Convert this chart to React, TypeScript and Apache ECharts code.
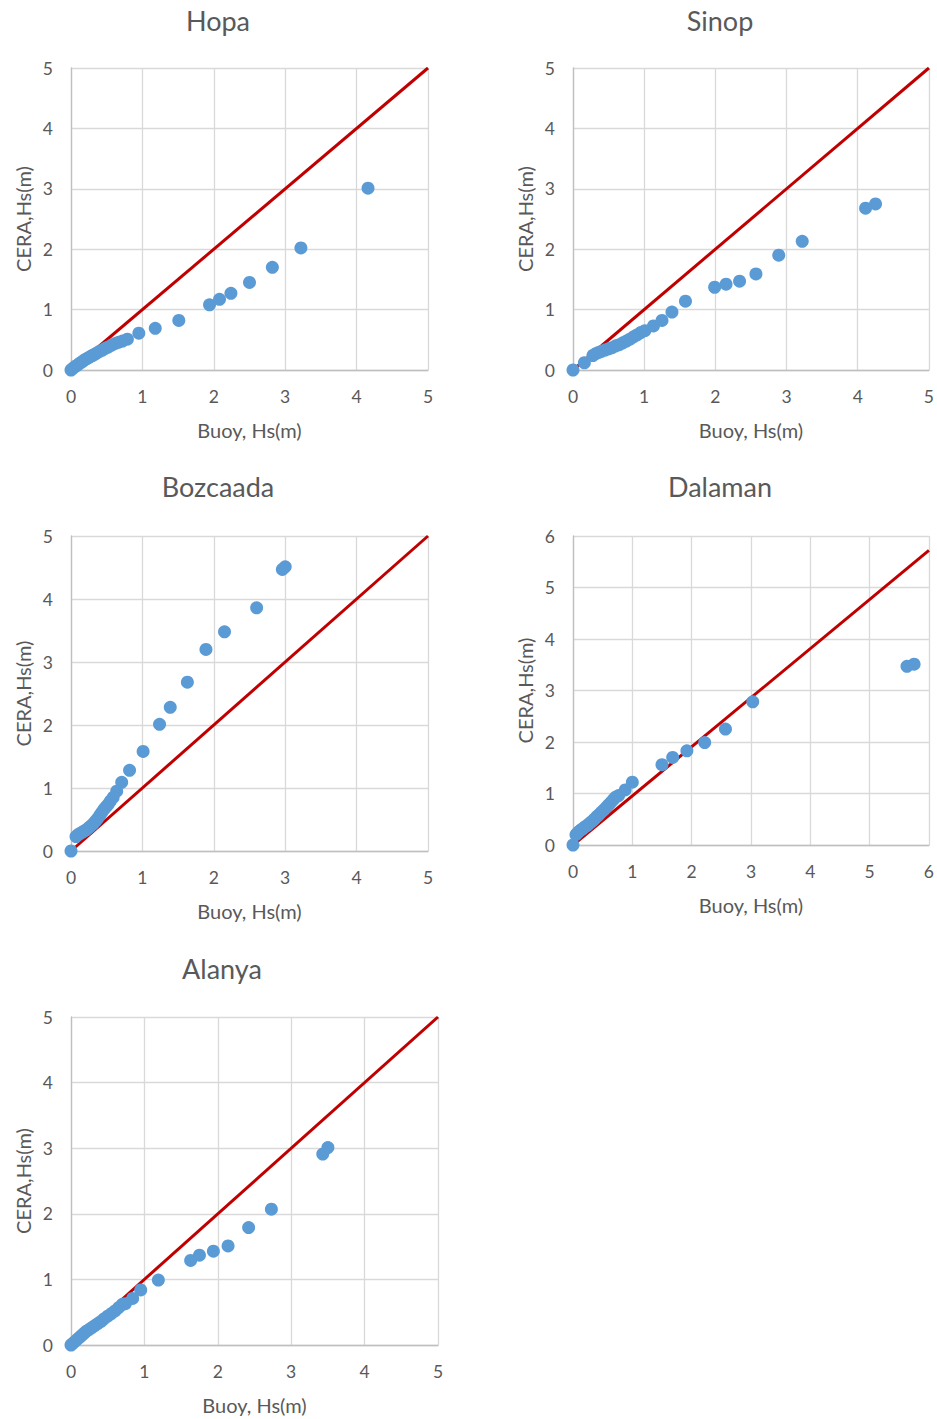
import React, { useEffect, useRef } from "react";
import * as echarts from "echarts";

// ---- Data (Buoy Hs vs CERA Hs quantiles) ----
const stations = ["Hopa", "Sinop", "Bozcaada", "Dalaman", "Alanya"];

const hopaBuoy = [0, 0.03, 0.06, 0.09, 0.12, 0.15, 0.18, 0.21, 0.24, 0.27, 0.3, 0.33, 0.36, 0.4, 0.44, 0.48, 0.52, 0.57, 0.62, 0.67, 0.72, 0.79, 0.95, 1.18, 1.51, 1.94, 2.08, 2.24, 2.5, 2.82, 3.22, 4.16];
const hopaCera = [0, 0.03, 0.06, 0.08, 0.11, 0.13, 0.16, 0.18, 0.2, 0.22, 0.24, 0.26, 0.28, 0.31, 0.33, 0.36, 0.38, 0.41, 0.44, 0.46, 0.48, 0.51, 0.61, 0.69, 0.82, 1.08, 1.17, 1.27, 1.45, 1.7, 2.02, 3.01];

const sinopBuoy = [0, 0.16, 0.28, 0.32, 0.36, 0.4, 0.45, 0.5, 0.55, 0.6, 0.65, 0.7, 0.75, 0.8, 0.85, 0.9, 0.95, 1.01, 1.13, 1.25, 1.39, 1.58, 1.99, 2.15, 2.34, 2.57, 2.89, 3.22, 4.11, 4.25];
const sinopCera = [0, 0.12, 0.24, 0.27, 0.29, 0.31, 0.33, 0.35, 0.37, 0.4, 0.42, 0.45, 0.48, 0.51, 0.55, 0.58, 0.62, 0.65, 0.73, 0.82, 0.96, 1.14, 1.37, 1.42, 1.47, 1.59, 1.9, 2.13, 2.68, 2.75];

const bozcaadaBuoy = [0, 0.07, 0.1, 0.13, 0.16, 0.19, 0.22, 0.25, 0.28, 0.31, 0.34, 0.37, 0.4, 0.43, 0.46, 0.49, 0.52, 0.55, 0.59, 0.64, 0.71, 0.82, 1.01, 1.24, 1.39, 1.63, 1.89, 2.15, 2.6, 2.96, 3.0];
const bozcaadaCera = [0, 0.23, 0.26, 0.28, 0.3, 0.32, 0.34, 0.37, 0.4, 0.43, 0.47, 0.51, 0.56, 0.61, 0.66, 0.7, 0.74, 0.79, 0.85, 0.95, 1.09, 1.28, 1.58, 2.01, 2.28, 2.68, 3.2, 3.48, 3.86, 4.47, 4.51];

const dalamanBuoy = [0, 0.05, 0.08, 0.11, 0.14, 0.17, 0.2, 0.24, 0.28, 0.32, 0.36, 0.4, 0.44, 0.48, 0.52, 0.56, 0.6, 0.64, 0.68, 0.72, 0.77, 0.88, 1.0, 1.5, 1.68, 1.92, 2.22, 2.57, 3.03, 5.63, 5.75];
const dalamanCera = [0, 0.2, 0.24, 0.27, 0.3, 0.32, 0.35, 0.38, 0.42, 0.46, 0.5, 0.55, 0.59, 0.64, 0.68, 0.73, 0.78, 0.83, 0.88, 0.93, 0.96, 1.07, 1.22, 1.56, 1.7, 1.83, 1.99, 2.25, 2.78, 3.47, 3.51];

const alanyaBuoy = [0, 0.03, 0.06, 0.09, 0.12, 0.15, 0.18, 0.21, 0.25, 0.29, 0.33, 0.37, 0.41, 0.45, 0.5, 0.55, 0.6, 0.65, 0.7, 0.74, 0.84, 0.95, 1.19, 1.63, 1.75, 1.94, 2.14, 2.42, 2.73, 3.43, 3.5];
const alanyaCera = [0, 0.03, 0.06, 0.09, 0.12, 0.15, 0.18, 0.21, 0.24, 0.27, 0.3, 0.33, 0.36, 0.4, 0.44, 0.48, 0.52, 0.57, 0.62, 0.63, 0.71, 0.84, 0.99, 1.29, 1.37, 1.43, 1.51, 1.79, 2.07, 2.91, 3.01];

// reference line end points [x, y]
const refLines = [
  [[0, 0], [5, 5]],
  [[0, 0], [5, 5]],
  [[0, 0], [5, 5]],
  [[0, 0], [6, 5.72]],
  [[0, 0], [5, 5]],
];
const axisMax = [5, 5, 5, 6, 5];

const xAxisTitle = "Buoy, Hs(m)";
const yAxisTitle = "CERA,Hs(m)";

const buoyData = [hopaBuoy, sinopBuoy, bozcaadaBuoy, dalamanBuoy, alanyaBuoy];
const ceraData = [hopaCera, sinopCera, bozcaadaCera, dalamanCera, alanyaCera];

// ---- Layout ----
const grids = [
  { left: 71, top: 68, width: 357, height: 302 },
  { left: 573, top: 68, width: 358, height: 302 },
  { left: 71, top: 536, width: 357, height: 315 },
  { left: 573, top: 536, width: 358, height: 309 },
  { left: 71, top: 1017, width: 367, height: 328 },
];
const titlePos = [
  { x: 218, y: 7 },
  { x: 720, y: 7 },
  { x: 218, y: 473 },
  { x: 720, y: 473 },
  { x: 222, y: 955 },
];

const FONT = "Lato, 'Open Sans', sans-serif";
const TXT = "#595959";

export default function App() {
  const ref = useRef<HTMLDivElement>(null);
  useEffect(() => {
    if (!ref.current) return;
    const chart = echarts.init(ref.current, undefined, { renderer: "svg" });
    const series: any[] = [];
    stations.forEach((_, i) => {
      series.push({
        type: "line",
        xAxisIndex: i,
        yAxisIndex: i,
        data: refLines[i],
        showSymbol: false,
        symbol: "none",
        lineStyle: { color: "#c00000", width: 3 },
        z: 2,
        silent: true,
      });
      series.push({
        type: "scatter",
        xAxisIndex: i,
        yAxisIndex: i,
        data: buoyData[i].map((b, k) => [b, ceraData[i][k]]),
        symbol: "circle",
        symbolSize: 13,
        itemStyle: { color: "#5b9bd5", opacity: 1 },
        z: 3,
      });
    });
    const axisCommon = {
      type: "value",
      min: 0,
      interval: 1,
      axisLine: { show: true, lineStyle: { color: "#bfbfbf", width: 1.3 } },
      axisTick: { show: false },
      splitLine: { show: true, lineStyle: { color: "#d9d9d9", width: 1.3 } },
      nameLocation: "middle",
      nameTextStyle: { color: TXT, fontSize: 20, fontFamily: FONT },
    };
    chart.setOption({
      animation: false,
      backgroundColor: "#ffffff",
      textStyle: { fontFamily: FONT },
      title: stations.map((s, i) => ({
        text: s,
        left: titlePos[i].x,
        top: titlePos[i].y,
        padding: 0,
        textAlign: "center",
        textStyle: { color: TXT, fontSize: 27, fontWeight: "normal", fontFamily: FONT },
      })),
      grid: grids.map((g) => ({ ...g, containLabel: false })),
      xAxis: stations.map((_, i) => ({
        ...axisCommon,
        gridIndex: i,
        max: axisMax[i],
        name: xAxisTitle,
        nameGap: 50,
        axisLabel: { color: TXT, fontSize: 17.5, margin: 17, fontFamily: FONT },
      })),
      yAxis: stations.map((_, i) => ({
        ...axisCommon,
        gridIndex: i,
        max: axisMax[i],
        name: yAxisTitle,
        nameGap: 38,
        axisLabel: { color: TXT, fontSize: 17.5, margin: 18, fontFamily: FONT },
      })),
      series,
    });
    return () => chart.dispose();
  }, []);
  return (
    <div
      ref={ref}
      style={{ position: "absolute", left: 0, top: 0, width: 937, height: 1419, background: "#fff" }}
    />
  );
}
